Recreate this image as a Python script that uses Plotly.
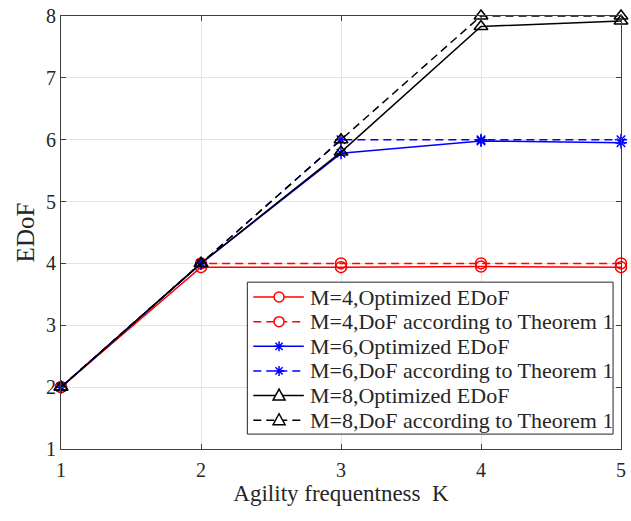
import plotly.graph_objects as go

# ---------------- data ----------------
K = [1, 2, 3, 4, 5]
m4_opt = [2.0, 3.94, 3.94, 3.95, 3.94]
m4_thm = [2, 4, 4, 4, 4]
m6_opt = [2.0, 4.0, 5.78, 5.98, 5.95]
m6_thm = [2, 4, 6, 6, 6]
m8_opt = [2.0, 4.0, 5.80, 7.83, 7.92]
m8_thm = [2, 4, 6, 8, 8]

names = ["M=4,Optimized EDoF", "M=4,DoF according to Theorem 1",
         "M=6,Optimized EDoF", "M=6,DoF according to Theorem 1",
         "M=8,Optimized EDoF", "M=8,DoF according to Theorem 1"]
x_ticks = [1, 2, 3, 4, 5]
y_ticks = [1, 2, 3, 4, 5, 6, 7, 8]

# ---------------- styles ----------------
DASH = "8px,5px"
series = [
    (m4_opt, "red", "solid", "circle-open", 11, "circle"),
    (m4_thm, "red", DASH, "circle-open", 11, "circle"),
    (m6_opt, "blue", "solid", "asterisk-open", 10, "asterisk"),
    (m6_thm, "blue", DASH, "asterisk-open", 10, "asterisk"),
    (m8_opt, "black", "solid", "triangle-up-open", 12, "triangle"),
    (m8_thm, "black", DASH, "triangle-up-open", 12, "triangle"),
]

W, H = 631, 521
ML, MR, MT, MB = 61, 5, 13, 72
PW, PH = W - ML - MR, H - MT - MB
font = "Liberation Serif"
txt = "#262626"


def px2x(px):
    return (px - ML) / PW


def px2y(py):
    return (H - MB - py) / PH


fig = go.Figure()
for (y, c, d, sym, sz, _), nm in zip(series, names):
    fig.add_trace(go.Scatter(
        x=K, y=y, name=nm, mode="lines+markers", showlegend=False,
        line=dict(color=c, width=1.5, dash=d),
        marker=dict(symbol=sym, size=sz, color=c, line=dict(color=c, width=1.5)),
        cliponaxis=False,
    ))

axis_common = dict(
    showgrid=True, gridcolor="#e3e3e3", gridwidth=1,
    showline=True, linecolor="#404040", linewidth=1, mirror="ticks",
    ticks="inside", ticklen=5, tickcolor="#404040",
    tickfont=dict(family=font, size=20, color=txt),
    zeroline=False, ticklabeloverflow="allow",
)
fig.update_xaxes(range=[1, 5], tickvals=x_ticks, ticklabelstandoff=3,
                 title=dict(text="Agility frequentness  K", font=dict(family=font, size=23, color=txt), standoff=4),
                 **axis_common)
fig.update_yaxes(range=[1, 8], tickvals=y_ticks,
                 title=dict(text="EDoF", font=dict(family=font, size=25, color=txt), standoff=4),
                 **axis_common)

# ---------------- custom legend (MATLAB-style) ----------------
LX0, LX1, LY0, LY1 = 249, 618, 281, 434
row0, row_h = 296, 24.8
s0, s1, mk, tx = 255, 306, 281, 310

shapes = [dict(type="rect", xref="paper", yref="paper",
               x0=px2x(LX0), x1=px2x(LX1), y0=px2y(LY1), y1=px2y(LY0),
               fillcolor="white", line=dict(color=txt, width=1), layer="above")]
annotations = []
for i, ((y, c, d, sym, sz, kind), nm) in enumerate(zip(series, names)):
    yc = row0 + i * row_h
    shapes.append(dict(type="line", xref="paper", yref="paper",
                       x0=px2x(s0), x1=px2x(s1), y0=px2y(yc), y1=px2y(yc),
                       line=dict(color=c, width=1.5, dash=d), layer="above"))
    common = dict(xref="paper", yref="paper", xsizemode="pixel", ysizemode="pixel",
                  xanchor=px2x(mk), yanchor=px2y(yc), layer="above",
                  line=dict(color=c, width=1.5))
    if kind == "circle":
        shapes.append(dict(type="circle", x0=-5, x1=5, y0=-5, y1=5, fillcolor="white", **common))
    elif kind == "triangle":
        shapes.append(dict(type="path", path="M -6,-4.5 L 6,-4.5 L 0,6.5 Z", fillcolor="white", **common))
    else:
        shapes.append(dict(type="path",
                           path="M -5,0 L 5,0 M 0,-5 L 0,5 M -3.6,-3.6 L 3.6,3.6 M -3.6,3.6 L 3.6,-3.6",
                           **common))
    annotations.append(dict(xref="paper", yref="paper", x=px2x(tx), y=px2y(yc),
                            xanchor="left", yanchor="middle", showarrow=False,
                            text=nm, font=dict(family=font, size=22, color=txt)))

fig.update_layout(
    width=W, height=H,
    margin=dict(l=ML, r=MR, t=MT, b=MB),
    paper_bgcolor="white", plot_bgcolor="white",
    font=dict(family=font, color=txt),
    showlegend=False,
    shapes=shapes, annotations=annotations,
)

fig.write_html("out.html")
